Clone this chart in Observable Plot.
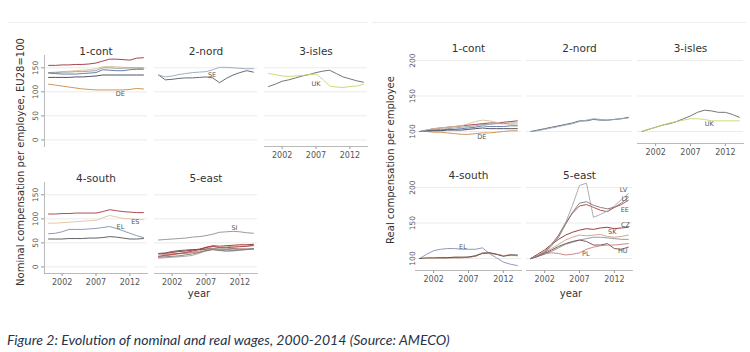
<!DOCTYPE html>
<html><head><meta charset="utf-8">
<script src="https://cdn.jsdelivr.net/npm/d3@7"></script>
<script src="https://cdn.jsdelivr.net/npm/@observablehq/plot@0.6"></script>
<style>
body{margin:0;background:#fff;}
#wrap{position:relative;width:750px;height:352px;overflow:hidden;font-family:"DejaVu Sans",sans-serif;background:#fff;}
.panel{position:absolute;top:0;}
.ytitle{position:absolute;transform:translate(-50%,-50%) rotate(-90deg);white-space:nowrap;font-size:10px;color:#333;}
.xtitle{position:absolute;transform:translate(-50%,-50%);white-space:nowrap;font-size:10px;color:#333;}
.topline{position:absolute;top:22px;height:0;border-top:1px solid #eeeeee;}
#caption{position:absolute;left:7px;top:331px;white-space:nowrap;font-family:Lato,"Liberation Sans",sans-serif;font-style:italic;font-size:13px;color:#26334a;}
</style></head><body><div id="wrap"></div>
<script>
// ---------- data ----------
const years = [2000,2001,2002,2003,2004,2005,2006,2007,2008,2009,2010,2011,2012,2013,2014];
const groups = ["1-cont","2-nord","3-isles","4-south","5-east"];
const xTicks = [2002,2007,2012];
const nominalTicks = [0,50,100,150];
const realTicks = [100,150,200];

// Nominal compensation per employee, EU28=100
const nominalCont = [
  ["LU",[155,155,156,156,157,157,158,160,164,168,168,167,166,170,171]],
  ["BE",[140,141,142,143,144,145,146,148,152,153,152,151,150,149,148]],
  ["NL",[140,140,141,141,142,142,143,144,150,150,149,149,150,150,150]],
  ["FR",[139,138,137,137,137,138,139,140,146,145,144,144,146,147,147]],
  ["AT",[130,130,130,130,131,131,132,133,135,135,135,135,135,135,135]],
  ["DE",[116,114,112,110,108,106,105,104,104,104,104,104,105,107,106]]
];
const nominalNord = [
  ["SE",[135,125,126,128,129,129,130,131,129,119,128,135,140,144,141]],
  ["DK",[135,131,133,136,138,140,141,142,146,151,151,150,149,148,148]]
];
const nominalIsles = [
  ["IE",[111,116,122,125,129,133,136,140,143,145,138,131,127,123,120]],
  ["UK",[138,136,133,132,133,134,136,137,126,112,110,109,111,112,116]]
];
const nominalSouth = [
  ["IT",[110,110,111,111,112,112,112,112,115,119,117,115,114,113,113]],
  ["ES",[91,91,92,93,94,95,96,97,102,107,104,101,100,99,98]],
  ["EL",[69,70,73,78,78,78,79,80,82,84,80,75,70,65,61]],
  ["PT",[58,58,58,59,59,59,60,60,61,63,62,60,58,58,59]]
];
const nominalEast = [
  ["SI",[56,57,58,59,60,62,63,65,68,72,73,74,73,71,70]],
  ["CZ",[27,28,30,32,33,35,37,40,44,43,44,45,46,46,47]],
  ["SK",[22,23,25,27,29,31,33,37,42,41,42,43,43,43,44]],
  ["HU",[28,29,32,34,35,36,36,37,38,37,37,38,37,37,37]],
  ["PL",[27,26,27,28,28,30,31,33,36,35,36,37,37,37,38]],
  ["EE",[22,24,26,28,30,33,36,41,43,40,40,41,42,43,45]],
  ["LV",[18,19,20,21,22,24,28,34,38,35,33,33,35,36,38]],
  ["LT",[20,21,22,23,25,27,30,34,36,34,33,34,35,36,38]]
];

// Real compensation per employee, 2000=100
const realCont = [
  ["LU",[100,102,104,105,106,107,108,109,110,111,112,112,113,114,115]],
  ["BE",[100,102,104,105,106,107,108,111,114,116,115,113,111,110,109]],
  ["NL",[100,101,102,103,104,105,106,107,108,110,110,111,111,112,112]],
  ["FR",[100,101,102,102,103,103,104,105,106,108,107,107,107,108,108]],
  ["AT",[100,100,101,101,102,102,102,103,104,105,104,104,104,104,104]],
  ["DE",[100,100,99,99,98,97,96,96,97,98,98,99,100,101,101]]
];
const realNord = [
  ["SE",[100,102,104,106,108,110,112,115,115,117,116,116,117,118,120]],
  ["DK",[100,101,103,105,107,109,111,114,116,118,117,116,117,118,119]]
];
const realIsles = [
  ["IE",[100,103,106,109,111,114,118,122,127,130,129,127,127,124,120]],
  ["UK",[100,103,106,109,112,114,116,118,118,117,115,115,115,115,115]]
];
const realSouth = [
  ["IT",[100,100,100,101,101,101,101,102,103,108,108,106,104,105,104]],
  ["ES",[100,100,100,100,100,100,101,101,104,108,107,106,104,104,104]],
  ["EL",[100,106,111,113,114,114,113,113,113,115,107,101,95,92,90]],
  ["PT",[100,101,101,101,101,102,102,102,104,107,108,106,103,105,105]]
];
const realEast = [
  ["SI",[100,103,106,110,115,120,123,126,128,130,130,129,128,127,127]],
  ["CZ",[100,106,112,120,127,133,137,140,142,141,143,144,142,143,144]],
  ["SK",[100,103,108,114,120,126,130,133,132,133,134,131,130,131,133]],
  ["HU",[100,103,107,112,117,121,124,126,124,119,119,121,114,113,116]],
  ["PL",[100,104,107,108,107,105,106,108,113,116,118,119,119,120,121]],
  ["EE",[100,104,109,120,133,150,164,174,176,172,168,166,172,176,182]],
  ["LV",[100,104,110,120,132,150,175,203,206,158,162,167,174,183,191]],
  ["LT",[100,103,108,118,130,148,165,178,180,175,172,170,172,178,186]]
];

// country labels: [group, text, year, value]
const nominalLabels = [
  ["1-cont","DE",2010.6,95],["2-nord","SE",2007.9,136],["3-isles","UK",2007,117],
  ["4-south","ES",2012.8,93],["4-south","EL",2010.6,83],["5-east","SI",2011.2,82]
];
const realLabels = [
  ["1-cont","DE",2008.9,92],["3-isles","UK",2009.7,111],["4-south","EL",2006.2,117],
  ["5-east","LV",2013.3,197],["5-east","LT",2013.5,184],["5-east","EE",2013.5,168],
  ["5-east","CZ",2013.6,147],["5-east","SK",2011.7,138],["5-east","HU",2013.2,111],["5-east","PL",2007.9,106]
];

const countries = ["LU","BE","NL","FR","AT","DE","SE","DK","IE","UK","IT","ES","EL","PT","SI","CZ","SK","HU","PL","EE","LV","LT"];
const countryColors = ["#9b2f3a","#d9c09a","#9a9a9a","#56709f","#3c3f52","#c98a4b","#555a66","#93a6ba","#666666","#c8d46a",
  "#a8383c","#dcc49e","#7f90b0","#505050","#8f8f8f","#8b2a2a","#c4a086","#6b4b4b","#c87a7a","#b23b3b","#a5a5a5","#777777"];

// ---------- build ----------
const colOf = g => [1,2,3,1,2][groups.indexOf(g)];
const rowOf = g => [1,1,1,2,2][groups.indexOf(g)];

function makeRows(sets) {
  const rows = [];
  sets.forEach((set, gi) => set.forEach(([country, vals]) => vals.forEach((v, i) =>
    rows.push({group: groups[gi], country, year: years[i], value: v, fx: colOf(groups[gi]), fy: rowOf(groups[gi])}))));
  return rows;
}
function makeLabels(arr) {
  return arr.map(([g, t, yr, v]) => ({text: t, year: yr, value: v, fx: colOf(g), fy: rowOf(g)}));
}
const titles = groups.map(g => ({name: g, fx: colOf(g), fy: rowOf(g)}));

function panel({sets, labels, width, marginLeft, marginRight, marginTop, marginBottom, yDomain, yTicks, fxPad, yTickSize, yTickPad, yLine}) {
  const rows = makeRows(sets);
  const marks = [
    Plot.gridY(yTicks, {stroke: "#e6e6e6", strokeOpacity: 1, strokeWidth: 0.8}),
    Plot.axisY(yTicks, {facetAnchor: "left", tickRotate: -90, tickSize: yTickSize, tickPadding: yTickPad, label: null, stroke: "#999", fill: "#555", fontSize: 7.5}),
    Plot.axisX(xTicks, {facetAnchor: "bottom-empty", tickSize: 3, tickPadding: 2.5, tickFormat: "d", label: null, stroke: "#999", fill: "#555", fontSize: 8}),
    Plot.frame({anchor: "bottom", facetAnchor: "bottom-empty", stroke: "#aaa", strokeWidth: 0.8}),
    Plot.lineY(rows, {x: "year", y: "value", z: "country", stroke: "country", fx: "fx", fy: "fy", strokeWidth: 0.9}),
    Plot.text(titles, {text: "name", fx: "fx", fy: "fy", frameAnchor: "top", dy: -8, fontSize: 10.5, fill: "#333"}),
    Plot.text(makeLabels(labels), {x: "year", y: "value", text: "text", fx: "fx", fy: "fy", fontSize: 6.5, fill: "#555"})
  ];
  if (yLine) marks.splice(1, 0, Plot.frame({anchor: "left", facetAnchor: "left", stroke: "#aaa", strokeWidth: 0.8}));
  return Plot.plot({
    width, height: 300, marginLeft, marginRight, marginTop, marginBottom,
    style: {fontFamily: "DejaVu Sans", fontSize: "8px", color: "#555", background: "transparent", overflow: "visible"},
    x: {domain: [1999.4, 2014.6]},
    y: {domain: yDomain},
    fx: {domain: [1,2,3], paddingInner: fxPad, paddingOuter: 0, axis: null},
    fy: {domain: [1,2], paddingInner: 0.2835, paddingOuter: 0, axis: null},
    color: {domain: countries, range: countryColors},
    marks
  });
}

const wrap = document.getElementById("wrap");
function add(el, left, top) { el.classList.add("panel"); el.style.left = left + "px"; el.style.top = top + "px"; wrap.appendChild(el); }

add(panel({sets: [nominalCont, nominalNord, nominalIsles, nominalSouth, nominalEast], labels: nominalLabels,
  width: 370, marginLeft: 43, marginRight: 1, marginTop: 55, marginBottom: 27,
  yDomain: [-13.75, 175.6], yTicks: nominalTicks, fxPad: 0.063, yTickSize: 3, yTickPad: 4, yLine: true}), 0, 0);
add(panel({sets: [realCont, realNord, realIsles, realSouth, realEast], labels: realLabels,
  width: 380, marginLeft: 44, marginRight: 7, marginTop: 52, marginBottom: 30,
  yDomain: [83.1, 211.3], yTicks: realTicks, fxPad: 0.0493, yTickSize: 0, yTickPad: 1, yLine: false}), 370, 0);

function label(cls, text, x, y) {
  const d = document.createElement("div"); d.className = cls; d.textContent = text;
  d.style.left = x + "px"; d.style.top = y + "px"; wrap.appendChild(d); return d;
}
label("ytitle", "Nominal compensation per employee, EU28=100", 20, 162);
label("ytitle", "Real compensation per employee", 390, 160);
label("xtitle", "year", 199, 293);
label("xtitle", "year", 571, 293);
[[8,360],[372,374]].forEach(([l,w]) => { const d = document.createElement("div"); d.className = "topline"; d.style.left = l + "px"; d.style.width = w + "px"; wrap.appendChild(d); });

const cap = document.createElement("div");
cap.id = "caption";
cap.textContent = "Figure 2: Evolution of nominal and real wages, 2000-2014 (Source: AMECO)";
wrap.appendChild(cap);
const w = cap.getBoundingClientRect().width;
cap.style.fontSize = (13 * 443 / w).toFixed(2) + "px";
</script></body></html>
